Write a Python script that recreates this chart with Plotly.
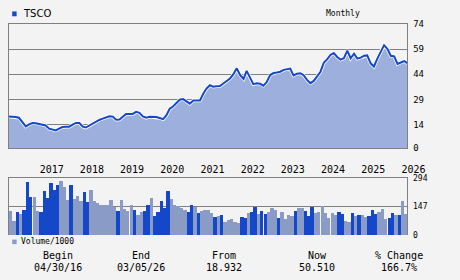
import plotly.graph_objects as go
import pandas as pd

# ---------------- data ----------------
months = pd.date_range("2016-04-01", periods=120, freq="MS")

price = [18.9, 18.8, 18.5, 18.1, 15.5, 13.0, 14.2, 15.0, 14.9, 14.5,
         14.3, 13.5, 11.6, 11.0, 10.6, 11.7, 12.6, 12.7, 12.8, 14.0,
         15.0, 15.0, 12.8, 12.3, 13.5, 14.5, 15.6, 16.8, 17.6, 18.1,
         19.0, 18.8, 16.9, 17.0, 19.0, 20.4, 20.4, 20.4, 21.6, 21.0,
         18.9, 18.1, 18.7, 18.6, 18.6, 18.0, 17.3, 19.5, 23.5, 24.8,
         27.0, 28.8, 29.2, 28.0, 26.5, 28.4, 28.4, 28.4, 32.5, 35.5,
         37.5, 36.6, 36.8, 37.0, 38.5, 40.0, 41.5, 44.0, 47.5, 43.5,
         41.3, 46.0, 41.5, 38.1, 38.6, 38.3, 37.2, 39.5, 43.5, 44.7,
         45.0, 45.5, 46.6, 47.0, 47.4, 43.3, 44.3, 44.6, 43.4, 40.6,
         38.7, 40.0, 42.8, 45.5, 51.0, 52.8, 55.5, 56.6, 54.3, 52.7,
         53.5, 58.1, 53.5, 56.2, 53.3, 53.9, 55.0, 55.2, 50.5, 48.6,
         53.3, 57.5, 61.3, 59.0, 55.0, 54.6, 50.1, 51.0, 51.8, 50.51]

volume = [123, 74, 118, 108, 128, 276, 197, 197, 123, 118,
          227, 192, 266, 232, 256, 281, 246, 182, 256, 187,
          202, 177, 222, 172, 232, 177, 167, 153, 153, 153,
          182, 143, 123, 182, 133, 123, 153, 128, 103, 118,
          123, 153, 192, 99, 118, 177, 138, 227, 187, 158,
          148, 138, 128, 118, 153, 143, 113, 123, 128, 128,
          113, 94, 99, 103, 69, 79, 84, 69, 64, 94,
          89, 113, 118, 143, 108, 123, 108, 118, 138, 128,
          89, 118, 84, 103, 99, 123, 138, 138, 123, 99,
          143, 113, 118, 148, 113, 89, 113, 103, 118, 108,
          74, 69, 113, 99, 103, 103, 94, 99, 128, 108,
          118, 133, 84, 89, 113, 103, 103, 177, 108, 110]

vol_up = [0, 0, 1, 0, 1, 1, 1, 0, 0, 1,
          1, 1, 1, 1, 1, 0, 0, 0, 1, 0,
          0, 0, 1, 1, 0, 0, 0, 0, 0, 0,
          0, 0, 1, 0, 0, 0, 0, 1, 0, 0,
          1, 1, 0, 1, 1, 1, 1, 1, 0, 0,
          0, 0, 0, 1, 1, 0, 1, 0, 0, 0,
          0, 1, 0, 1, 0, 0, 0, 0, 0, 1,
          1, 0, 1, 1, 0, 1, 1, 0, 0, 0,
          1, 0, 0, 0, 0, 1, 0, 0, 1, 1,
          1, 0, 0, 0, 0, 0, 0, 0, 1, 1,
          0, 0, 1, 0, 1, 0, 0, 1, 1, 1,
          0, 0, 0, 1, 1, 0, 1, 0, 0, 0]

price_ticks = [0, 14, 29, 44, 59, 74]
volume_ticks = [0, 147, 294]
year_ticks = ["2017-01-01", "2018-01-01", "2019-01-01", "2020-01-01", "2021-01-01",
              "2022-01-01", "2023-01-01", "2024-01-01", "2025-01-01", "2026-01-01"]
year_labels = ["2017", "2018", "2019", "2020", "2021", "2022", "2023", "2024", "2025", "2026"]

symbol = "TSCO"
period = "Monthly"
volume_label = "Volume/1000"
summary_heads = ["Begin", "End", "From", "Now", "% Change"]
summary_vals = ["04/30/16", "03/05/26", "18.932", "50.510", "166.7%"]

# ---------------- style ----------------
W, H = 460, 280
BG = "#F3F3F3"
GRID = "#808080"
LINE = "#1448C8"
FILL = "#9DAFDC"
DARK = "#1448C8"
LIGHT = "#8A9BC6"
MONO = "DejaVu Sans Mono"


def px(x):
    return x / W


def py(y):
    return 1 - y / H


x0, x1 = 9.3, 424
main_top, main_bot = 19.5, 148.5
vol_top, vol_bot = 179.3, 238.7

fig = go.Figure()

fig.add_trace(go.Scatter(x=months, y=price, mode="lines", fill="tozeroy",
                         fillcolor=FILL, line=dict(width=0), hoverinfo="skip",
                         xaxis="x", yaxis="y"))
fig.add_trace(go.Scatter(x=months, y=price, mode="lines",
                         line=dict(color="white", width=3.5), hoverinfo="skip",
                         xaxis="x", yaxis="y"))
fig.add_trace(go.Scatter(x=months, y=price, mode="lines",
                         line=dict(color=LINE, width=2),
                         xaxis="x", yaxis="y"))

bar_colors = [DARK if u else LIGHT for u in vol_up]
month_ms = 30.44 * 86400000
fig.add_trace(go.Bar(x=months, y=volume, marker=dict(color=bar_colors, line=dict(width=0)),
                     width=month_ms, offset=0, xaxis="x2", yaxis="y2"))

xr = [months[0], months[-1]]
fig.update_layout(
    width=W, height=H,
    margin=dict(l=0, r=0, t=0, b=0),
    paper_bgcolor=BG, plot_bgcolor=BG,
    showlegend=False, bargap=0,
    font=dict(family=MONO, size=10, color="#000000"),
    xaxis=dict(domain=[px(x0), px(x1)], range=xr, showticklabels=False,
               showgrid=False, zeroline=False, showline=True, mirror=True,
               linecolor=GRID, linewidth=1, ticks=""),
    yaxis=dict(domain=[py(main_bot), py(main_top)], range=[0, 74], side="right",
               tickvals=price_ticks, showgrid=True, gridcolor=GRID, gridwidth=1,
               zeroline=False, showline=True, mirror=True, linecolor=GRID, linewidth=1,
               ticks="", tickfont=dict(size=9, family=MONO), ticklabelstandoff=3),
    xaxis2=dict(domain=[px(x0), px(x1)], range=xr, anchor="y2", side="top",
                tickvals=year_ticks, ticktext=year_labels,
                ticklabelposition="outside right",
                showgrid=False, zeroline=False, showline=True, mirror=False,
                linecolor=GRID, linewidth=1, ticks="",
                tickfont=dict(size=10, family=MONO)),
    yaxis2=dict(domain=[py(vol_bot), py(vol_top)], range=[0, 294], side="right",
                anchor="x2", tickvals=volume_ticks, showgrid=True, gridcolor=GRID,
                gridwidth=1, zeroline=False, showline=True, mirror=True,
                linecolor=GRID, linewidth=1, ticks="",
                tickfont=dict(size=8, family=MONO), ticklabelstandoff=3),
)

shapes = [
    dict(type="rect", xref="paper", yref="paper", x0=px(12.7), x1=px(17.3),
         y0=py(11.7), y1=py(6.7), fillcolor=DARK, line=dict(width=0)),
    dict(type="rect", xref="paper", yref="paper", x0=px(12.7), x1=px(17.3),
         y0=py(248), y1=py(243.3), fillcolor=LIGHT, line=dict(width=0)),
]
fig.update_layout(shapes=shapes)

ann = [
    dict(text=symbol, x=px(22), y=py(9.3), xanchor="left", yanchor="middle",
         font=dict(family="DejaVu Sans", size=10)),
    dict(text=period, x=px(357), y=py(9), xanchor="center", yanchor="middle",
         font=dict(family=MONO, size=8)),
    dict(text=volume_label, x=px(20), y=py(245.5), xanchor="left", yanchor="middle",
         font=dict(family=MONO, size=8)),
]
cols = [60, 147, 233, 330, 415]
for c, h, v in zip(cols, summary_heads, summary_vals):
    ann.append(dict(text=h, x=px(c), y=py(259.5), xanchor="center", yanchor="middle",
                    font=dict(family=MONO, size=10)))
    ann.append(dict(text=v, x=px(c), y=py(272.5), xanchor="center", yanchor="middle",
                    font=dict(family=MONO, size=10)))
for a in ann:
    a.update(xref="paper", yref="paper", showarrow=False)
fig.update_layout(annotations=ann)

fig.write_html("out.html")
